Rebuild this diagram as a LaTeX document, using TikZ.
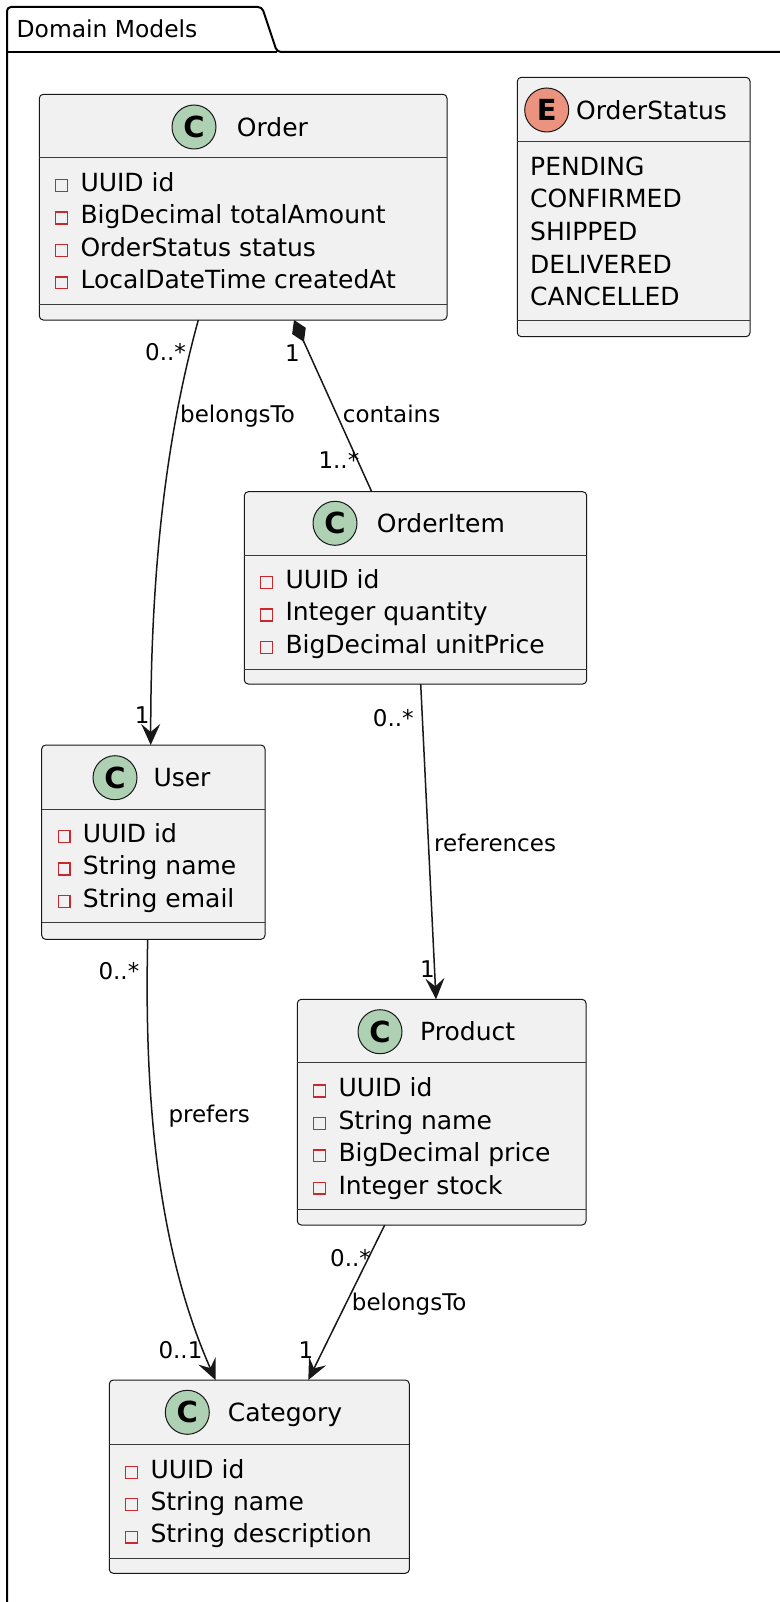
\documentclass[tikz,border=0pt]{standalone}
\usepackage{fontspec}
\setmainfont{DejaVu Sans}
\usetikzlibrary{arrows.meta,calc}
\definecolor{boxfill}{HTML}{F1F1F1}
\definecolor{boxline}{HTML}{181818}
\definecolor{cgreen}{HTML}{ADD1B2}
\definecolor{ered}{HTML}{EB937F}
\definecolor{priv}{HTML}{C82930}
\newcommand\attrfont{\fontsize{25}{30}\selectfont}
\newcommand\lblfont{\fontsize{23}{27}\selectfont}
\newcommand\iconfont{\fontsize{29}{29}\selectfont\bfseries}
\tikzset{
  classbox/.style={draw=boxline, fill=boxfill, line width=1pt, rounded corners=4pt, anchor=north west, inner sep=0pt, outer sep=0pt},
  sepline/.style={draw=boxline!85, line width=1pt},
  privmark/.style={draw=priv, line width=1.3pt},
  attr/.style={anchor=base west, inner sep=0pt, font=\attrfont},
  lbl/.style={anchor=base west, inner sep=0pt, font=\lblfont},
  cicon/.style={circle, draw=boxline, fill=cgreen, line width=1pt, minimum size=44pt, inner sep=0pt, font=\iconfont},
  eicon/.style={circle, draw=boxline, fill=ered, line width=1pt, minimum size=44pt, inner sep=0pt, font=\iconfont},
  conn/.style={draw=boxline, line width=1.5pt},
  tip/.style={-{Stealth[length=21pt,width=19pt,inset=8pt]}},
  pkg/.style={draw=black, line width=2pt, rounded corners=4pt}
}
\newcommand\umlattr[4]{%
  \draw[privmark] ({#2+16.5},{#3-2.6}) rectangle ++(11.8,11.8);
  \node[attr] (#1) at ({#2+41},{#3+9.1}) {#4};
}
\newcommand\umlenum[4]{%
  \node[attr] (#1) at ({#2},{#3+9.1}) {#4};
}
\begin{document}
\begin{tikzpicture}[x=1pt,y=-1pt]
\useasboundingbox (0,0) rectangle (779,1602);
\fill[white] (0,0) rectangle (779,1602);

% package
\draw[pkg] (7,1660) -- (7,7) -- (262,7) -- (277,52) -- (800,52);
\draw[line width=2pt] (7,52) -- (277,52);
\node[anchor=base west, inner sep=0pt, font=\fontsize{23.4}{28}\selectfont] (pkgname) at (16.5,37.5) {Domain Models};

% Order
\node[classbox, minimum width=407.7pt, minimum height=225.7pt] (order) at (39.3,94.3) {};
\draw[sepline] (39.3,157.7) -- (447,157.7);
\draw[sepline] (39.3,305) -- (447,305);
\node[cicon] (order-c) at (194,127) {C};
\node[attr] (order-n) at (236.7,136.1) {Order};
\umlattr{order-a1}{39.3}{182.3}{UUID id}
\umlattr{order-a2}{39.3}{214.7}{BigDecimal totalAmount}
\umlattr{order-a3}{39.3}{247.1}{OrderStatus status}
\umlattr{order-a4}{39.3}{279.5}{LocalDateTime createdAt}

% OrderStatus
\node[classbox, minimum width=232.7pt, minimum height=259.4pt] (status) at (517.3,77.3) {};
\draw[sepline] (517.3,141.7) -- (750,141.7);
\draw[sepline] (517.3,320.7) -- (750,320.7);
\node[eicon] (status-c) at (546.7,110) {E};
\node[attr] (status-n) at (576,119.1) {OrderStatus};
\umlenum{status-v1}{530}{166.3}{PENDING}
\umlenum{status-v2}{530}{198.9}{CONFIRMED}
\umlenum{status-v3}{530}{231.5}{SHIPPED}
\umlenum{status-v4}{530}{264.1}{DELIVERED}
\umlenum{status-v5}{530}{296.7}{CANCELLED}

% OrderItem
\node[classbox, minimum width=342.4pt, minimum height=192.3pt] (item) at (244.3,491.7) {};
\draw[sepline] (244.3,555.3) -- (586.7,555.3);
\draw[sepline] (244.3,669.3) -- (586.7,669.3);
\node[cicon] (item-c) at (335,523.3) {C};
\node[attr] (item-n) at (376.7,532.4) {OrderItem};
\umlattr{item-a1}{244.3}{579.3}{UUID id}
\umlattr{item-a2}{244.3}{611.7}{Integer quantity}
\umlattr{item-a3}{244.3}{644.1}{BigDecimal unitPrice}

% User
\node[classbox, minimum width=223.3pt, minimum height=194.3pt] (user) at (41.7,745) {};
\draw[sepline] (41.7,809.3) -- (265,809.3);
\draw[sepline] (41.7,922.7) -- (265,922.7);
\node[cicon] (user-c) at (115,777.7) {C};
\node[attr] (user-n) at (153.3,786.8) {User};
\umlattr{user-a1}{41.7}{833.3}{UUID id}
\umlattr{user-a2}{41.7}{865.7}{String name}
\umlattr{user-a3}{41.7}{898.1}{String email}

% Product
\node[classbox, minimum width=288.7pt, minimum height=225.7pt] (product) at (297.3,999.3) {};
\draw[sepline] (297.3,1062.7) -- (586,1062.7);
\draw[sepline] (297.3,1209.3) -- (586,1209.3);
\node[cicon] (product-c) at (380,1031.7) {C};
\node[attr] (product-n) at (420,1040.8) {Product};
\umlattr{product-a1}{297.3}{1087.7}{UUID id}
\umlattr{product-a2}{297.3}{1120.1}{String name}
\umlattr{product-a3}{297.3}{1152.5}{BigDecimal price}
\umlattr{product-a4}{297.3}{1184.9}{Integer stock}

% Category
\node[classbox, minimum width=300pt, minimum height=193.3pt] (category) at (109.3,1380) {};
\draw[sepline] (109.3,1444) -- (409.3,1444);
\draw[sepline] (109.3,1558.3) -- (409.3,1558.3);
\node[cicon] (category-c) at (187.3,1412.3) {C};
\node[attr] (category-n) at (227.7,1421.4) {Category};
\umlattr{category-a1}{109.3}{1469}{UUID id}
\umlattr{category-a2}{109.3}{1501.4}{String name}
\umlattr{category-a3}{109.3}{1533.8}{String description}

% connector end points
\coordinate (ou-s) at (198.3,320);
\coordinate (ou-e) at (150.7,745);
\coordinate (oi-s) at (294,320);
\coordinate (oi-e) at (371.7,491.7);
\coordinate (ip-s) at (420.7,684);
\coordinate (ip-e) at (436,999.3);
\coordinate (uc-s) at (147.7,939.3);
\coordinate (uc-e) at (215.5,1380);
\coordinate (pc-s) at (384.7,1225);
\coordinate (pc-e) at (308.3,1380);

% Order -> User
\draw[conn, tip] (ou-s) .. controls (168,430) and (150.7,560) .. (ou-e);
\node[lbl] (ou-m1) at (145,360) {0..*};
\node[lbl] (ou-l) at (180,422) {belongsTo};
\node[lbl] (ou-m2) at (134.7,723.7) {1};

% Order <>- OrderItem
\draw[conn, {Diamond[length=24pt,width=15pt]}-] (oi-s) -- (oi-e);
\node[lbl] (oi-m1) at (285,361.7) {1};
\node[lbl] (oi-l) at (342.7,422) {contains};
\node[lbl] (oi-m2) at (318.3,468.3) {1..*};

% OrderItem -> Product
\draw[conn, tip] (ip-s) -- (ip-e);
\node[lbl] (ip-m1) at (372.7,726.7) {0..*};
\node[lbl] (ip-l) at (434,851.7) {references};
\node[lbl] (ip-m2) at (420,977.7) {1};

% User -> Category
\draw[conn, tip] (uc-s) .. controls (144,1100) and (158,1250) .. (uc-e);
\node[lbl] (uc-m1) at (98.3,979.3) {0..*};
\node[lbl] (uc-l) at (168.3,1122.6) {prefers};
\node[lbl] (uc-m2) at (158.3,1358.3) {0..1};

% Product -> Category
\draw[conn, tip] (pc-s) -- (pc-e);
\node[lbl] (pc-m1) at (330,1266) {0..*};
\node[lbl] (pc-l) at (351.7,1310.5) {belongsTo};
\node[lbl] (pc-m2) at (298.3,1358.3) {1};
\end{tikzpicture}
\end{document}
